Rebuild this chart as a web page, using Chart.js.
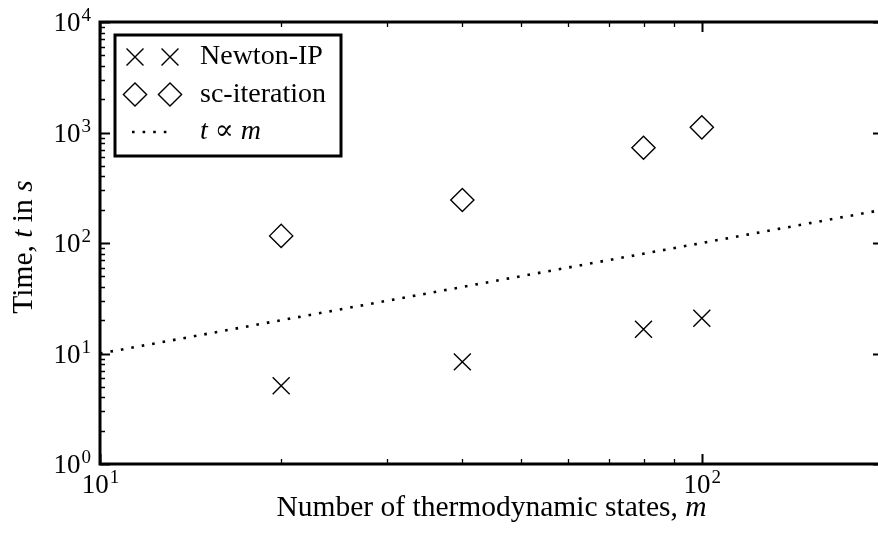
<!DOCTYPE html>
<html>
<head>
<meta charset="utf-8">
<script src="https://cdn.jsdelivr.net/npm/chart.js@4.4.1/dist/chart.umd.min.js"></script>
<style>
  html, body { margin: 0; padding: 0; background: #fff; overflow: hidden; }
  #wrap { width: 890px; height: 539px; }
</style>
</head>
<body>
<div id="wrap"><canvas id="timing" width="890" height="539"></canvas></div>
<script>
// number of thermodynamic states m
let states = [20, 40, 80, 100];
// run time in seconds for each solver
let newtonTimes = [5.1, 8.4, 16.6, 20.8];
let scTimes = [116, 245, 728, 1114];
// linear reference, t = m
let refStates = [10, 200];
let refTimes = [10, 200];

let xTickValues = [10, 100];
let yTickValues = [1, 10, 100, 1000, 10000];

const SERIF = '"Liberation Serif", "DejaVu Serif", serif';
const TICK_SIZE = 27;
const SUP_SIZE = 19;
const LEGEND_SIZE = 28;
const TITLE_SIZE = 29.5;

function font(size, italic) {
    return (italic ? 'italic ' : '') + size + 'px ' + SERIF;
}

function pairs(xs, ys) {
    return xs.map((v, i) => ({x: v, y: ys[i]}));
}

// single latin letters are math variables, set in italic
function richParts(text) {
    return text.split(/(\s+)/).filter(s => s.length).map(s => {
        let m = s.match(/^([A-Za-z])([,]?)$/);
        if (m) return [{t: m[1], it: true}, {t: m[2], it: false}];
        return [{t: s, it: false}];
    }).flat().filter(p => p.t.length);
}

function drawRich(ctx, text, x, y, align, size) {
    let parts = richParts(text);
    let widths = parts.map(p => {
        ctx.font = font(size, p.it);
        return ctx.measureText(p.t).width;
    });
    let total = widths.reduce((a, b) => a + b, 0);
    let cx = align === 'center' ? x - total / 2 : x;
    ctx.textAlign = 'left';
    ctx.textBaseline = 'alphabetic';
    parts.forEach((p, i) => {
        ctx.font = font(size, p.it);
        ctx.fillText(p.t, cx, y);
        cx += widths[i];
    });
}

// "10" with a raised exponent; anchor is 'center' or 'right'
function drawPower(ctx, value, x, y, anchor) {
    let base = '10', exp = String(Math.round(Math.log10(value)));
    ctx.font = font(TICK_SIZE);
    let wb = ctx.measureText(base).width;
    ctx.font = font(SUP_SIZE);
    let we = ctx.measureText(exp).width;
    let left = anchor === 'center' ? x - (wb + we) / 2 : x - wb - we;
    ctx.textAlign = 'left';
    ctx.textBaseline = 'alphabetic';
    ctx.font = font(TICK_SIZE);
    ctx.fillText(base, left, y);
    ctx.font = font(SUP_SIZE);
    ctx.fillText(exp, left + wb + 1, y - 10);
}

// box around the axes with inward log ticks on all four sides
const frameTicks = {
    id: 'frameTicks',
    afterDatasetsDraw(chart) {
        let ctx = chart.ctx;
        let a = chart.chartArea;
        let xs = chart.scales.x, ys = chart.scales.y;
        ctx.save();
        ctx.strokeStyle = '#000';
        for (let d = 1; d <= 10000; d *= 10) {
            for (let k = 1; k < 10; k++) {
                let v = d * k;
                let major = k === 1;
                let len = major ? 10 : 5;
                ctx.lineWidth = major ? 2 : 1.3;
                ctx.beginPath();
                if (v >= xs.min && v <= xs.max) {
                    let px = Math.round(xs.getPixelForValue(v)) + 0.5;
                    ctx.moveTo(px, a.bottom); ctx.lineTo(px, a.bottom - len);
                    ctx.moveTo(px, a.top); ctx.lineTo(px, a.top + len);
                }
                if (v >= ys.min && v <= ys.max) {
                    let py = Math.round(ys.getPixelForValue(v)) + 0.5;
                    ctx.moveTo(a.left, py); ctx.lineTo(a.left + len, py);
                    ctx.moveTo(a.right, py); ctx.lineTo(a.right - len, py);
                }
                ctx.stroke();
            }
        }
        ctx.lineWidth = 3;
        ctx.strokeRect(a.left, a.top, a.right - a.left, a.bottom - a.top);
        ctx.restore();
    }
};

// tick labels and axis titles
const axisText = {
    id: 'axisText',
    afterDraw(chart) {
        let ctx = chart.ctx;
        let a = chart.chartArea;
        let xs = chart.scales.x, ys = chart.scales.y;
        ctx.save();
        ctx.fillStyle = '#000';
        xs.ticks.forEach(t => drawPower(ctx, t.value, xs.getPixelForValue(t.value), a.bottom + 29, 'center'));
        ys.ticks.forEach(t => drawPower(ctx, t.value, a.left - 10, ys.getPixelForValue(t.value) + 9, 'right'));
        drawRich(ctx, 'Number of thermodynamic states, m', (a.left + a.right) / 2, a.bottom + 52, 'center', TITLE_SIZE);
        ctx.translate(32, (a.top + a.bottom) / 2 + 4);
        ctx.rotate(-Math.PI / 2);
        drawRich(ctx, 'Time, t in s', 0, 0, 'center', TITLE_SIZE);
        ctx.restore();
    }
};

// boxed legend, two markers per entry
const boxLegend = {
    id: 'boxLegend',
    afterDraw(chart) {
        let ctx = chart.ctx;
        let a = chart.chartArea;
        let left = a.left + 15, top = a.top + 13;
        let w = 226, h = 121, row = 37.5;
        ctx.save();
        ctx.fillStyle = '#fff';
        ctx.fillRect(left, top, w, h);
        ctx.strokeStyle = '#000';
        ctx.lineWidth = 3;
        ctx.strokeRect(left, top, w, h);
        chart.data.datasets.forEach((ds, i) => {
            let cy = top + 22 + i * row;
            ctx.strokeStyle = '#000';
            if (ds.showLine) {
                ctx.lineWidth = ds.borderWidth;
                ctx.setLineDash(ds.borderDash);
                ctx.beginPath();
                ctx.moveTo(left + 17, cy);
                ctx.lineTo(left + 57, cy);
                ctx.stroke();
                ctx.setLineDash([]);
            } else {
                ctx.fillStyle = 'rgba(0,0,0,0)';
                ctx.lineWidth = ds.borderWidth;
                let opts = {pointStyle: ds.pointStyle, radius: ds.pointRadius, rotation: 0, borderWidth: ds.borderWidth};
                Chart.helpers.drawPoint(ctx, opts, left + 20, cy);
                Chart.helpers.drawPoint(ctx, opts, left + 55, cy);
            }
            ctx.fillStyle = '#000';
            drawRich(ctx, ds.label, left + 85, cy + 7, 'left', LEGEND_SIZE);
        });
        ctx.restore();
    }
};

new Chart(document.getElementById('timing'), {
    type: 'scatter',
    data: {
        datasets: [{
            label: 'Newton-IP',
            data: pairs(states, newtonTimes),
            pointStyle: 'crossRot',
            pointRadius: 12,
            borderColor: '#000',
            borderWidth: 1.4,
            backgroundColor: 'rgba(0,0,0,0)'
        }, {
            label: 'sc-iteration',
            data: pairs(states, scTimes),
            pointStyle: 'rectRot',
            pointRadius: 11.6,
            borderColor: '#000',
            borderWidth: 1.4,
            backgroundColor: 'rgba(0,0,0,0)'
        }, {
            label: 't \u221d m',
            type: 'line',
            data: pairs(refStates, refTimes),
            showLine: true,
            pointRadius: 0,
            borderColor: '#000',
            borderWidth: 2.6,
            borderDash: [2.6, 8],
            fill: false
        }]
    },
    options: {
        responsive: false,
        animation: false,
        layout: {autoPadding: false, padding: {top: 22, right: 7, left: 0, bottom: 0}},
        plugins: {legend: {display: false}, tooltip: {enabled: false}},
        scales: {
            x: {
                type: 'logarithmic',
                position: 'bottom',
                min: 10,
                max: 200,
                grid: {display: false, drawTicks: false},
                border: {display: false},
                ticks: {display: false},
                afterBuildTicks: s => { s.ticks = xTickValues.map(v => ({value: v})); },
                afterFit: s => { s.height = 75; }
            },
            y: {
                type: 'logarithmic',
                min: 1,
                max: 10000,
                grid: {display: false, drawTicks: false},
                border: {display: false},
                ticks: {display: false},
                afterBuildTicks: s => { s.ticks = yTickValues.map(v => ({value: v})); },
                afterFit: s => { s.width = 100; }
            }
        }
    },
    plugins: [frameTicks, axisText, boxLegend]
});
</script>
</body>
</html>
